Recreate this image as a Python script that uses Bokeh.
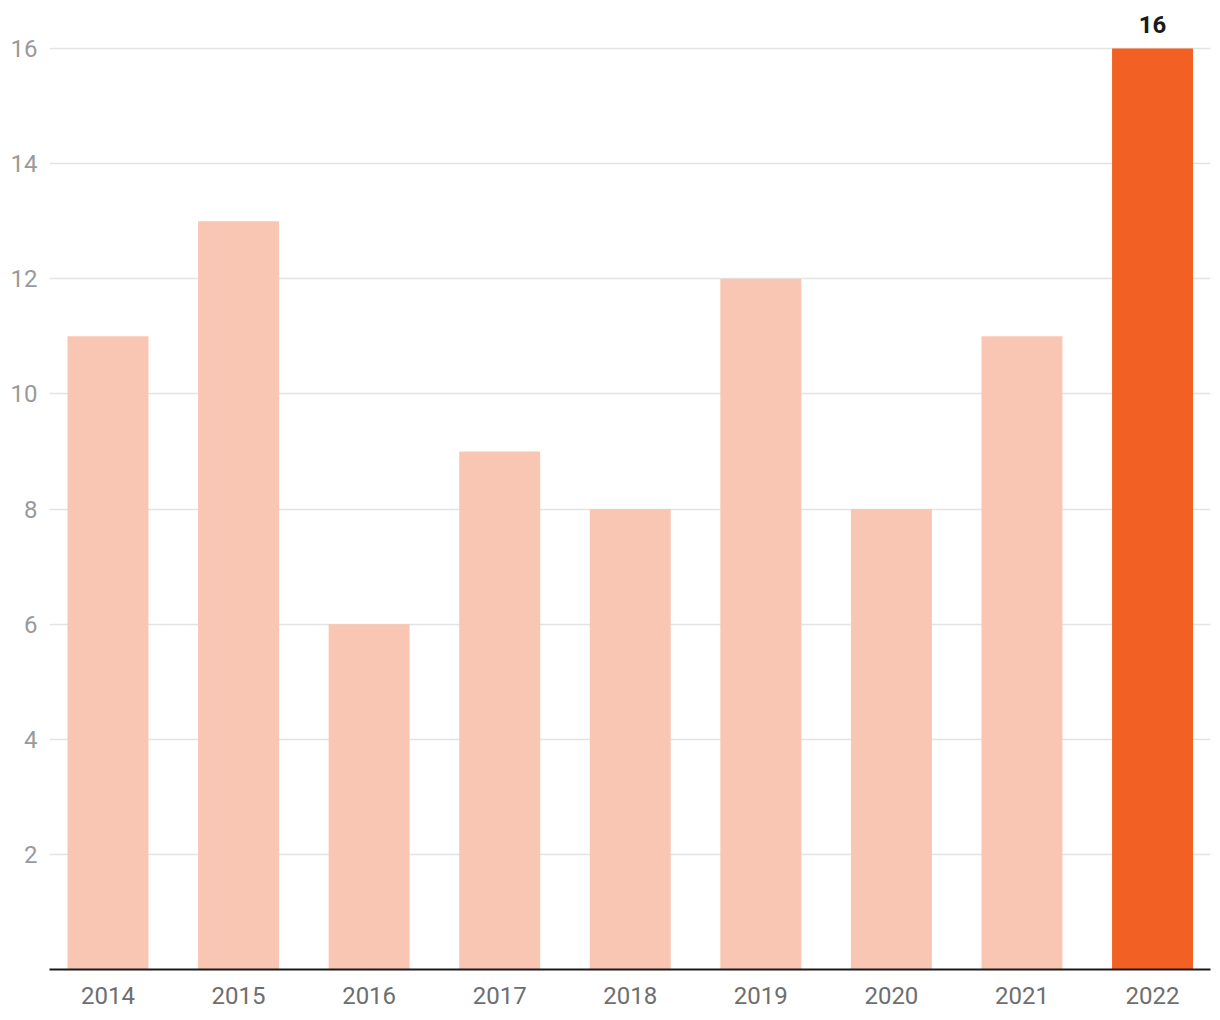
from bokeh.plotting import figure
from bokeh.models import ColumnDataSource, FixedTicker, Range1d
from bokeh.core.properties import value
from bokeh.embed import file_html
from bokeh.resources import INLINE

years = ["2014", "2015", "2016", "2017", "2018", "2019", "2020", "2021", "2022"]
counts = [11, 13, 6, 9, 8, 12, 8, 11, 16]
y_ticks = [2, 4, 6, 8, 10, 12, 14, 16]

LIGHT = "#F9C6B3"
DARK = "#F26024"

xs = list(range(len(years)))
colors = [DARK if y == "2022" else LIGHT for y in years]
src = ColumnDataSource(dict(x=xs, top=counts, color=colors))

p = figure(width=1220, height=1020, output_backend="svg", toolbar_location=None,
           x_range=Range1d(-0.448, 8.444), y_range=Range1d(0, 16.8),
           min_border_left=49, min_border_right=10, min_border_top=2, min_border_bottom=51)
p.outline_line_color = None
p.background_fill_color = "white"
p.border_fill_color = "white"

p.vbar(x="x", top="top", width=0.62, bottom=0, color="color", source=src, line_color=None)

hl = ColumnDataSource(dict(x=[xs[-1]], y=[counts[-1]], t=[str(counts[-1])]))
p.text(x="x", y="y", text="t", source=hl, text_align="center", text_baseline="bottom",
       y_offset=-16, text_font=value("Roboto"), text_font_size="24px",
       text_font_style="bold", text_color="#1a1a1a")

p.xgrid.grid_line_color = None
p.ygrid.ticker = FixedTicker(ticks=y_ticks)
p.ygrid.grid_line_color = "#e3e3e3"
p.ygrid.grid_line_width = 1.5

p.yaxis.ticker = FixedTicker(ticks=y_ticks)
p.yaxis.axis_line_color = None
p.yaxis.major_tick_line_color = None
p.yaxis.minor_tick_line_color = None
p.yaxis.major_label_text_font = "Roboto"
p.yaxis.major_label_text_font_size = "24px"
p.yaxis.major_label_text_color = "#9a9a9a"
p.yaxis.major_label_standoff = 6

p.xaxis.ticker = FixedTicker(ticks=xs)
p.xaxis.major_label_overrides = {i: y for i, y in enumerate(years)}
p.xaxis.axis_line_color = "#1a1a1a"
p.xaxis.axis_line_width = 2
p.xaxis.major_tick_line_color = None
p.xaxis.minor_tick_line_color = None
p.xaxis.major_label_text_font = "Roboto"
p.xaxis.major_label_text_font_size = "24px"
p.xaxis.major_label_text_color = "#6e6e6e"
p.xaxis.major_label_standoff = 11

open("out.html", "w").write(file_html(p, INLINE))
